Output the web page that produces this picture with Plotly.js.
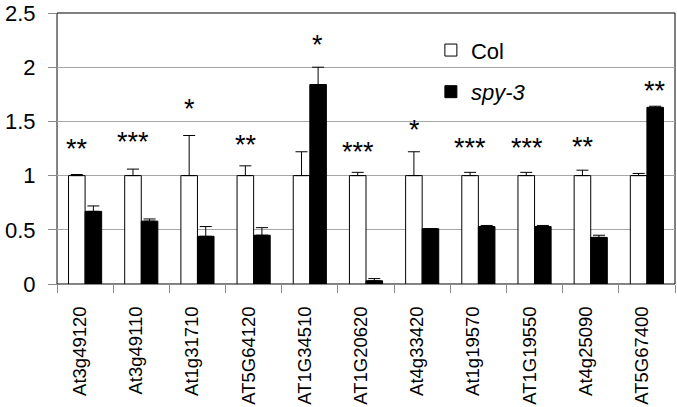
<!DOCTYPE html>
<html>
<head>
<meta charset="utf-8">
<script src="https://cdn.plot.ly/plotly-3.0.1.min.js"></script>
<style>html,body{margin:0;padding:0;background:#fff;}#chart{width:677px;height:407px;}</style>
</head>
<body>
<div id="chart"></div>
<script>
const categories = ['At3g49120','At3g49110','At1g31710','AT5G64120','AT1G34510','AT1G20620','At4g33420','At1g19570','AT1G19550','At4g25090','AT5G67400'];
const colValues = [1,1,1,1,1,1,1,1,1,1,1];
const colErr = [0.01,0.06,0.37,0.09,0.22,0.03,0.22,0.03,0.03,0.05,0.02];
const spyValues = [0.67,0.58,0.44,0.45,1.84,0.03,0.51,0.53,0.53,0.43,1.63];
const spyErr = [0.05,0.02,0.09,0.07,0.16,0.02,0,0.01,0.01,0.02,0.01];
const sigLabels = ['**','***','*','**','*','***','*','***','***','**','**'];
const sigY = [1.27,1.34,1.64,1.31,2.23,1.25,1.45,1.28,1.28,1.29,1.81];
const sigOver = ['Col','Col','Col','Col','spy','Col','Col','Col','Col','Col','spy'];
const yTicks = [0,0.5,1,1.5,2,2.5];

const FONT = '"Liberation Sans", Arial, sans-serif';

const traces = [
  {
    type: 'bar', name: 'Col', x: categories, y: colValues, legendgroup: 'a',
    marker: {color: '#ffffff', line: {color: '#000000', width: 1}},
    error_y: {type: 'data', symmetric: false, array: colErr, arrayminus: colErr.map(() => 0), color: '#000', thickness: 1, width: 6}
  },
  {
    type: 'bar', name: '<i>spy-3</i>', x: categories, y: spyValues, legendgroup: 'b',
    marker: {color: '#000000', line: {color: '#000000', width: 1}},
    error_y: {type: 'data', symmetric: false, array: spyErr, arrayminus: spyErr.map(() => 0), color: '#000', thickness: 1, width: 6}
  },
  {
    type: 'scatter', mode: 'none', x: categories, y: colValues, xaxis: 'x2', yaxis: 'y',
    showlegend: false, hoverinfo: 'skip'
  }
];

const annotations = categories.map((c, i) => ({
  x: c, y: sigY[i], xref: 'x', yref: 'y', text: sigLabels[i], showarrow: false,
  xshift: sigOver[i] === 'Col' ? -8 : 8, yshift: -3, yanchor: 'middle',
  font: {family: FONT, size: 27, color: '#000'}
}));

const layout = {
  width: 677, height: 407,
  margin: {l: 57, r: 2, t: 13, b: 123},
  paper_bgcolor: '#fff', plot_bgcolor: '#fff',
  font: {family: FONT, color: '#000'},
  barmode: 'group', bargap: 0.41, bargroupgap: 0,
  showlegend: true,
  legend: {x: 0.605, y: 0.94, xanchor: 'left', yanchor: 'top', traceorder: 'grouped', tracegroupgap: 10,
           font: {family: FONT, size: 22, color: '#000'}, bgcolor: 'rgba(0,0,0,0)', itemwidth: 30},
  xaxis: {
    type: 'category', categoryarray: categories, range: [-0.5, categories.length - 0.5],
    ticks: 'outside', ticklen: 14, tickcolor: 'rgba(0,0,0,0)', tickwidth: 1,
    showline: true, linecolor: '#888', linewidth: 1, showgrid: false, tickangle: -90,
    ticklabelshift: -5,
    tickfont: {family: FONT, size: 18.5, color: '#000'}
  },
  xaxis2: {
    type: 'category', categoryarray: categories, range: [-0.5, categories.length - 0.5],
    overlaying: 'x', anchor: 'y', side: 'bottom', tickson: 'boundaries',
    ticks: 'outside', ticklen: 8, tickcolor: '#888', tickwidth: 1,
    showticklabels: false, showline: false, showgrid: false, zeroline: false
  },
  yaxis: {
    range: [0, 2.5], tickvals: yTicks, ticktext: yTicks.map(String), ticks: 'outside', ticklen: 8, tickcolor: '#888',
    showline: true, linecolor: '#888', linewidth: 1, showgrid: true, gridcolor: '#a6a6a6', gridwidth: 1,
    zeroline: false, ticklabelstandoff: 8, tickfont: {family: FONT, size: 22, color: '#000'}
  },
  shapes: [{type: 'rect', xref: 'paper', yref: 'paper', x0: 0, x1: 1, y0: 0, y1: 1, line: {color: '#000', width: 1}, layer: 'below'}],
  annotations: annotations
};

Plotly.newPlot('chart', traces, layout, {displayModeBar: false, staticPlot: true});
</script>
</body>
</html>
